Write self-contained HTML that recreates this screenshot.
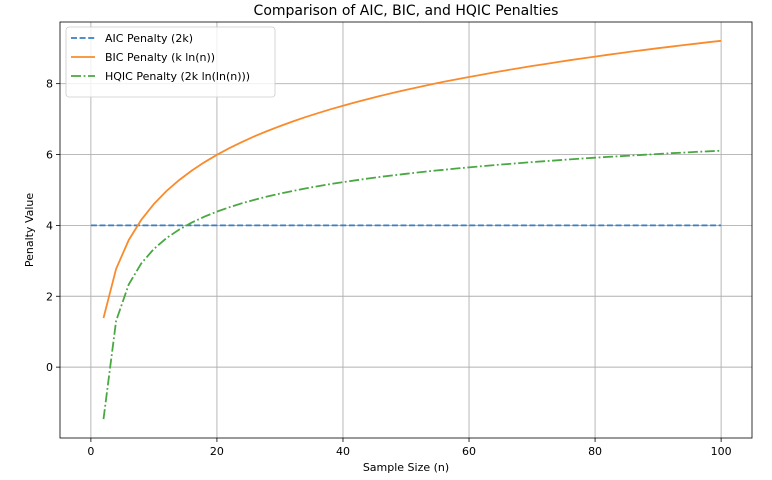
<!DOCTYPE html>
<html><head><meta charset="utf-8"><style>
body{margin:0;background:#fff;}
svg{display:block;font-family:"DejaVu Sans","Liberation Sans",sans-serif;}
</style></head><body>
<svg id="chart" width="772" height="480">
</svg>
<script>
const sampleSizes=[2,4,6,8,10,12,14,16,18,20,22,24,26,28,30,32,34,36,38,40,42,44,46,48,50,52,54,56,58,60,62,64,66,68,70,72,74,76,78,80,82,84,86,88,90,92,94,96,98,100];
const aicSizes=[0,100];
const aicValues=[4,4];
const bicValues=[1.386,2.773,3.584,4.159,4.605,4.970,5.278,5.545,5.781,5.991,6.182,6.356,6.516,6.664,6.802,6.931,7.053,7.167,7.275,7.378,7.475,7.568,7.657,7.742,7.824,7.902,7.978,8.051,8.121,8.189,8.254,8.318,8.379,8.439,8.497,8.553,8.608,8.661,8.713,8.764,8.813,8.862,8.909,8.955,9.000,9.044,9.087,9.129,9.170,9.210];
const hqicValues=[-1.466,1.306,2.333,2.928,3.336,3.641,3.882,4.079,4.246,4.389,4.514,4.625,4.725,4.815,4.897,4.972,5.041,5.105,5.165,5.221,5.274,5.323,5.370,5.414,5.456,5.496,5.534,5.570,5.605,5.638,5.670,5.701,5.731,5.759,5.786,5.813,5.838,5.863,5.887,5.910,5.933,5.954,5.976,5.996,6.016,6.036,6.055,6.073,6.091,6.109];
const xTicks=[0,20,40,60,80,100];
const yTicks=[0,2,4,6,8];
const seriesLabels=["AIC Penalty (2k)","BIC Penalty (k ln(n))","HQIC Penalty (2k ln(ln(n)))"];

const NS="http://www.w3.org/2000/svg";
const svg=document.getElementById('chart');
const L=60,R=752,T=22,B=438;
const xMin=-4.9,xMax=104.9,yMin=-2.0,yMax=9.74;
const sx=v=>L+(v-xMin)/(xMax-xMin)*(R-L);
const sy=v=>B-(v-yMin)/(yMax-yMin)*(B-T);
function mk(tag,attrs,parent){const e=document.createElementNS(NS,tag);for(const k in attrs)e.setAttribute(k,attrs[k]);(parent||svg).appendChild(e);return e;}

const grid=mk('g',{});


xTicks.forEach(t=>{
  const x=sx(t);
  const gl=mk('line',{x1:x,x2:x,y1:T,y2:B,stroke:'#b0b0b0','stroke-width':0.9},grid);
  
  
  mk('line',{x1:x,x2:x,y1:B,y2:B+4,stroke:'#000','stroke-width':0.8});
  const tx=mk('text',{x:x,y:B+17,'font-size':11,'text-anchor':'middle',fill:'#000'});
  tx.textContent=t;
  
  
});
yTicks.forEach(t=>{
  const y=sy(t);
  const gl=mk('line',{x1:L,x2:R,y1:y,y2:y,stroke:'#b0b0b0','stroke-width':0.9},grid);
  
  
  mk('line',{x1:L-4,x2:L,y1:y,y2:y,stroke:'#000','stroke-width':0.8});
  const ty=mk('text',{x:L-7,y:y+4,'font-size':11,'text-anchor':'end',fill:'#000'});
  ty.textContent=t;
  
  
});

function line(xs,vals,color,dash,name){
  const d=vals.map((v,i)=>(i?'L':'M')+sx(xs[i]).toFixed(1)+','+sy(v).toFixed(1)).join('');
  const p=mk('path',{d:d,fill:'none',stroke:color,'stroke-width':1.8,'stroke-dasharray':dash});
  
  
}
line(aicSizes,aicValues,'#3a7fc1','6,2.6','aic-line');
line(sampleSizes,bicValues,'#f98b2c','none','bic-line');
line(sampleSizes,hqicValues,'#4aa842','10,2.6,1.8,2.6','hqic-line');

const frame=mk('rect',{x:L,y:T,width:R-L,height:B-T,fill:'none',stroke:'#000','stroke-width':0.8});



const title=mk('text',{x:(L+R)/2,y:15,'font-size':14,'text-anchor':'middle',fill:'#000'});
title.textContent='Comparison of AIC, BIC, and HQIC Penalties';


const xl=mk('text',{x:(L+R)/2,y:471,'font-size':11,'text-anchor':'middle',fill:'#000'});
xl.textContent='Sample Size (n)';


const yl=mk('text',{x:0,y:0,'font-size':11,'text-anchor':'middle',fill:'#000',transform:'translate(33,'+((T+B)/2)+') rotate(-90)'});
yl.textContent='Penalty Value';



const lg=mk('g',{});


mk('rect',{x:66,y:27,width:209,height:70,rx:3,fill:'#fff','fill-opacity':0.8,stroke:'#ccc','stroke-width':0.8},lg);
const colors=['#3a7fc1','#f98b2c','#4aa842'];
const dashes=['6,2.6','none','10,2.6,1.8,2.6'];
seriesLabels.forEach((s,i)=>{
  const y=38+i*19;
  const ls=mk('line',{x1:71,x2:95,y1:y,y2:y,stroke:colors[i],'stroke-width':1.8,'stroke-dasharray':dashes[i]},lg);
  
  
  const lt=mk('text',{x:105,y:y+4,'font-size':11,fill:'#000'},lg);
  lt.textContent=s;
  
  
});
</script>
</body></html>
